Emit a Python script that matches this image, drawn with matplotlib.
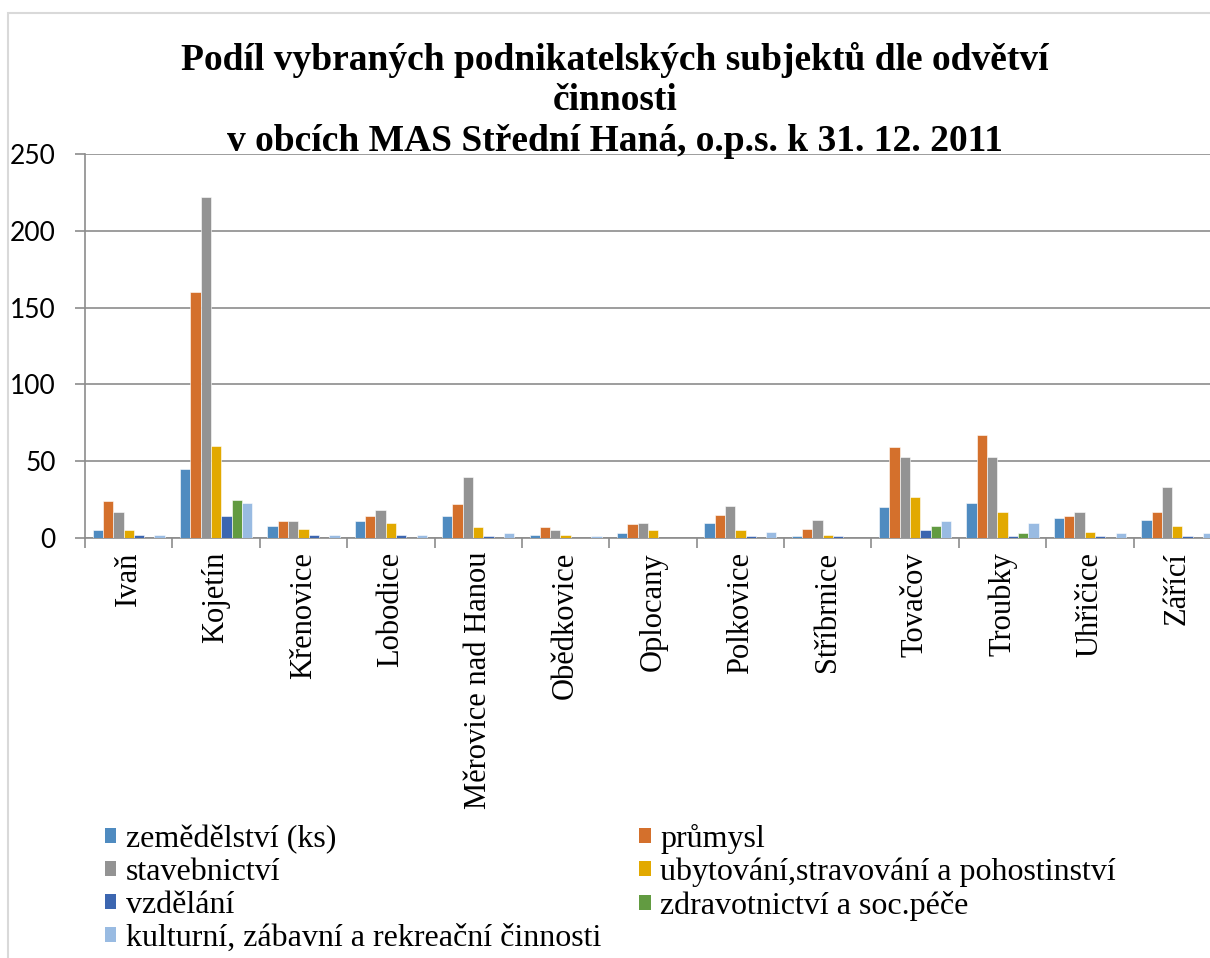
import numpy as np
import matplotlib.pyplot as plt
from matplotlib.patches import Patch, Rectangle

obce = ["Ivaň", "Kojetín", "Křenovice", "Lobodice", "Měrovice nad Hanou",
        "Obědkovice", "Oplocany", "Polkovice", "Stříbrnice", "Tovačov",
        "Troubky", "Uhřičice", "Zářící"]

zemedelstvi = [5, 45, 8, 11, 14, 2, 3, 10, 1, 20, 23, 13, 12]
prumysl = [24, 160, 11, 14, 22, 7, 9, 15, 6, 59, 67, 14, 17]
stavebnictvi = [17, 222, 11, 18, 40, 5, 10, 21, 12, 53, 53, 17, 33]
ubytovani = [5, 60, 6, 10, 7, 2, 5, 5, 2, 27, 17, 4, 8]
vzdelani = [2, 14, 2, 2, 1, 0, 0, 1, 1, 5, 1, 1, 1]
zdravotnictvi = [0, 25, 0, 0, 0, 0, 0, 0, 0, 8, 3, 0, 0]
kultura = [2, 23, 2, 2, 3, 1, 0, 4, 0, 11, 10, 3, 3]

serie = [
    ("zemědělství (ks)", zemedelstvi, "#4f8bc0"),
    ("průmysl", prumysl, "#d4702c"),
    ("stavebnictví", stavebnictvi, "#939393"),
    ("ubytování,stravování a pohostinství", ubytovani, "#e2a900"),
    ("vzdělání", vzdelani, "#3c66b0"),
    ("zdravotnictví a soc.péče", zdravotnictvi, "#629b41"),
    ("kulturní, zábavní a rekreační činnosti", kultura, "#99bbe2"),
]

W, H = 1210, 958
fig = plt.figure(figsize=(W / 100, H / 100), dpi=100)

# light frame of the chart area (cut off on right / bottom)
fig.patches.append(Rectangle((8 / W, -0.1), 1.2, 1 - 13 / H + 0.1,
                             transform=fig.transFigure, fill=False,
                             edgecolor="#d9d9d9", linewidth=1.5))

ax = fig.add_axes([85 / W, (H - 538) / H, (1221 - 85) / W, (538 - 154) / H])

x = np.arange(len(obce))
w = 0.118
handles = []
for i, (name, vals, col) in enumerate(serie):
    ax.bar(x + (i - 3) * w, vals, width=w, color=col, edgecolor="white",
           linewidth=0.4, zorder=3)
    handles.append(Patch(facecolor=col, label=name))

ax.set_xlim(-0.5, len(obce) - 0.5)
ax.set_ylim(0, 250)
ax.set_yticks([0, 50, 100, 150, 200, 250])
ax.yaxis.grid(True, color="#8c8c8c", linewidth=1.2, zorder=0)
for s in ["top", "right"]:
    ax.spines[s].set_visible(False)
for s in ["left", "bottom"]:
    ax.spines[s].set_color("#8c8c8c")
    ax.spines[s].set_linewidth(1.2)

ax.tick_params(axis="y", length=7, color="#8c8c8c", width=1.2, pad=14,
               labelsize=19)
for t in ax.get_yticklabels():
    t.set_family("Lato")

ax.set_xticks(x)
ax.set_xticklabels(obce, rotation=90, family="Liberation Serif", fontsize=22,
                   va="top")
ax.tick_params(axis="x", which="major", length=0, pad=10)
ax.set_xticks(np.arange(-0.5, len(obce) + 0.5, 1), minor=True)
ax.tick_params(axis="x", which="minor", length=7, color="#8c8c8c", width=1.2)

fig.text(615 / W, 1 - 42 / H,
         "Podíl vybraných podnikatelských subjektů dle odvětví\nčinnosti\n"
         "v obcích MAS Střední Haná, o.p.s. k 31. 12. 2011",
         ha="center", va="top", family="Liberation Serif", weight="bold",
         fontsize=27, linespacing=1.2)

# Excel fills legend row by row, matplotlib column by column
order = [0, 2, 4, 6, 1, 3, 5]
fig.legend([handles[i] for i in order], [serie[i][0] for i in order],
           ncol=2, loc="upper left", bbox_to_anchor=(105 / W, 1 - 824 / H),
           frameon=False, prop={"family": "Liberation Serif", "size": 23},
           handlelength=0.35, handleheight=0.35, handletextpad=0.3,
           labelspacing=0.12, columnspacing=1.2, borderpad=0, borderaxespad=0)

fig.savefig("out.png", dpi=100)
